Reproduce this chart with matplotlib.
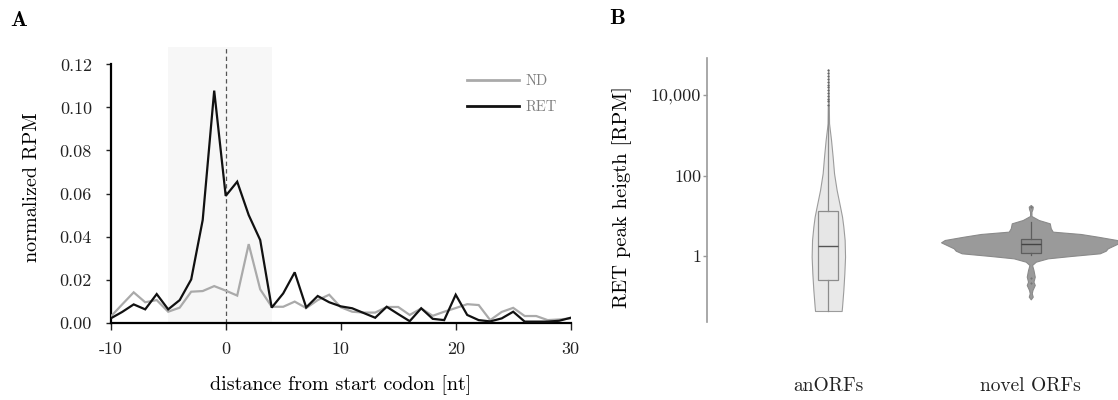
import numpy as np
import matplotlib
matplotlib.use("Agg")
import matplotlib.pyplot as plt
from matplotlib.ticker import FixedLocator, FixedFormatter, NullLocator

plt.rcParams['font.family'] = ['cmr10', 'DejaVu Serif']
plt.rcParams['axes.unicode_minus'] = False
plt.rcParams['axes.formatter.use_mathtext'] = True

# ---------------- Panel A data ----------------
positions_nt = list(range(-10, 31))
nd_values = [0.0028, 0.0085, 0.0141, 0.0095, 0.0105, 0.0051, 0.0070, 0.0144, 0.0147, 0.0170,
             0.0149, 0.0126, 0.0365, 0.0155, 0.0074, 0.0074, 0.0098, 0.0068, 0.0105, 0.0130,
             0.0072, 0.0051, 0.0047, 0.0047, 0.0073, 0.0073, 0.0036, 0.0066, 0.0032, 0.0051,
             0.0068, 0.0086, 0.0082, 0.0012, 0.0050, 0.0069, 0.0031, 0.0031, 0.0012, 0.0015,
             0.0020]
ret_values = [0.0020, 0.0050, 0.0085, 0.0062, 0.0133, 0.0062, 0.0105, 0.0201, 0.0477, 0.1078,
              0.0589, 0.0655, 0.0500, 0.0384, 0.0070, 0.0136, 0.0234, 0.0071, 0.0124, 0.0095,
              0.0076, 0.0067, 0.0045, 0.0023, 0.0074, 0.0040, 0.0007, 0.0067, 0.0018, 0.0012,
              0.0130, 0.0036, 0.0012, 0.0006, 0.0020, 0.0051, 0.0005, 0.0005, 0.0005, 0.0009,
              0.0023]
series_labels = ["ND", "RET"]
xtick_values_a = [-10, 0, 10, 20, 30]
xtick_labels_a = ["-10", "0", "10", "20", "30"]
ytick_values_a = [0.00, 0.02, 0.04, 0.06, 0.08, 0.10, 0.12]
ytick_labels_a = ["0.00", "0.02", "0.04", "0.06", "0.08", "0.10", "0.12"]
shade_range = (-5, 4)

# ---------------- Panel B data ----------------
categories_b = ["anORFs", "novel ORFs"]
# violin outlines: log10(RPM) levels and relative half-widths
anorf_log_levels = [4.638, 3.297, 2.882, 2.468, 2.054, 1.640, 1.226, 0.977, 0.729, 0.398,
                    -0.017, -0.430, -0.845, -1.259, -1.366]
anorf_density = [0.0, 0.7, 2.7, 4.3, 5.7, 8.3, 11.7, 13.7, 15.0, 16.3,
                 16.7, 16.0, 15.0, 13.7, 13.3]
novel_log_levels = [1.267, 1.226, 1.168, 1.101, 0.994, 0.894, 0.812, 0.688, 0.605, 0.547,
                    0.480, 0.398, 0.340, 0.273, 0.191, 0.132, 0.067, 0.000, -0.058, -0.141,
                    -0.224, -0.348, -0.514, -0.638, -0.720, -0.845, -0.927, -1.010, -1.077]
novel_density = [0.0, 2.0, 1.7, 0.7, 0.7, 8.0, 19.0, 20.0, 22.0, 50.0,
                 67.0, 86.0, 89.7, 84.0, 77.0, 75.0, 69.0, 40.0, 17.0, 5.0,
                 1.3, 2.7, 4.0, 2.7, 4.0, 1.7, 1.0, 2.0, 0.0]
# box summaries in log10(RPM)
anorf_box = dict(q1=-0.60, med=0.24, q3=1.125, whislo=-1.366, whishi=3.71)
anorf_fliers = [3.76, 3.84, 3.91, 3.98, 4.05, 4.12, 4.19, 4.26, 4.33, 4.40, 4.47, 4.54, 4.61]
novel_box = dict(q1=0.067, med=0.306, q3=0.415, whislo=0.025, whishi=0.853)
novel_fliers = [1.22, -0.555, -0.679]
ytick_values_b = [1, 100, 10000]
ytick_labels_b = ["1", "100", "10,000"]

W, H = 1118, 400
fig = plt.figure(figsize=(W / 100, H / 100), dpi=100)

# ================= Panel A =================
axA = fig.add_axes([110.7 / W, (H - 322.7) / H, 460 / W, 276 / H])
axA.axvspan(shade_range[0], shade_range[1], color="#f7f7f7", lw=0, zorder=0)
axA.axvline(0, color="#555555", lw=0.9, ls=(0, (3.5, 2.5)), zorder=1)
axA.plot(positions_nt, nd_values, color="#aaaaaa", lw=1.6, label=series_labels[0], zorder=3,
         solid_joinstyle="miter")
axA.plot(positions_nt, ret_values, color="#111111", lw=1.6, label=series_labels[1], zorder=4,
         solid_joinstyle="miter")
axA.set_xlim(-10, 30)
axA.set_ylim(0, 0.1282)
for s in ["top", "right"]:
    axA.spines[s].set_visible(False)
axA.spines["left"].set_bounds(0, 0.12)
axA.spines["bottom"].set_bounds(-10, 30)
for s in ["left", "bottom"]:
    axA.spines[s].set_linewidth(1.6)
    axA.spines[s].set_color("black")
axA.xaxis.set_major_locator(FixedLocator(xtick_values_a))
axA.xaxis.set_major_formatter(FixedFormatter(xtick_labels_a))
axA.yaxis.set_major_locator(FixedLocator(ytick_values_a))
axA.yaxis.set_major_formatter(FixedFormatter(ytick_labels_a))
axA.tick_params(axis="x", length=5, width=1.0, pad=9, labelsize=13, colors="#222222")
axA.tick_params(axis="y", length=3.5, width=1.0, pad=10, labelsize=13, colors="#222222")
axA.set_ylabel("normalized RPM", fontsize=14.5, va="center")
axA.yaxis.set_label_coords((32 - 110.7) / 460, (322.7 - 187) / 276)
axA.set_xlabel("distance from start codon [nt]", fontsize=14.5, va="center")
axA.xaxis.set_label_coords(0.5, (322.7 - 385) / 276)
leg = axA.legend(frameon=False, loc="upper left", bbox_to_anchor=((466.7 - 110.7) / 460, (322.7 - 74) / 276),
                 borderaxespad=0, borderpad=0, handlelength=3.6, handletextpad=0.4,
                 labelspacing=0.85, fontsize=10.5)
for t in leg.get_texts():
    t.set_color("#808080")
for l in leg.get_lines():
    l.set_linewidth(2.0)

fig.text(19 / W, 1 - 20 / H, "A", family="cmb10", fontsize=16, ha="center", va="center")

# ================= Panel B =================
axB = fig.add_axes([706.7 / W, (H - 321.7) / H, (W - 706.7) / W, (321.7 - 58.3) / H])
axB.set_yscale("log")
axB.set_ylim(10 ** -1.632, 10 ** 4.912)
axB.set_xlim(-0.601, 1.431)

vp = [
    dict(coords=10 ** np.array(anorf_log_levels), vals=np.array(anorf_density),
         mean=10 ** anorf_box["med"], median=10 ** anorf_box["med"],
         min=10 ** min(anorf_log_levels), max=10 ** max(anorf_log_levels)),
    dict(coords=10 ** np.array(novel_log_levels), vals=np.array(novel_density),
         mean=10 ** novel_box["med"], median=10 ** novel_box["med"],
         min=10 ** min(novel_log_levels), max=10 ** max(novel_log_levels)),
]
px_per_unit = (1030.7 - 828.3)
parts = axB.violin(vp, positions=[0, 1], widths=[2 * 16.7 / px_per_unit, 2 * 89.7 / px_per_unit],
                   showmeans=False, showextrema=False, showmedians=False)
face = ["#e9e9e9", "#9a9a9a"]
edge = ["#9c9c9c", "#8a8a8a"]
for body, fc, ec in zip(parts["bodies"], face, edge):
    body.set_facecolor(fc)
    body.set_edgecolor(ec)
    body.set_alpha(1)
    body.set_linewidth(0.8)
    body.set_zorder(1)

def to_stats(b, fl):
    return dict(q1=10 ** b["q1"], med=10 ** b["med"], q3=10 ** b["q3"],
                whislo=10 ** b["whislo"], whishi=10 ** b["whishi"],
                fliers=10 ** np.array(fl))

box_cols = [("#e6e6e6", "#8c8c8c", "#555555", "#666666"),
            ("#8e8e8e", "#5e5e5e", "#444444", "#777777")]
for i, (b, fl) in enumerate([(anorf_box, anorf_fliers), (novel_box, novel_fliers)]):
    fc, ec, mc, flc = box_cols[i]
    axB.bxp([to_stats(b, fl)], positions=[i], widths=20 / px_per_unit, patch_artist=True,
            showcaps=False, showfliers=True,
            boxprops=dict(facecolor=fc, edgecolor=ec, linewidth=0.9),
            medianprops=dict(color=mc, linewidth=1.0),
            whiskerprops=dict(color=ec, linewidth=0.9),
            flierprops=dict(marker="o", markersize=1.0, markerfacecolor=flc,
                            markeredgecolor=flc, markeredgewidth=0.5, linestyle="none"),
            zorder=3, manage_ticks=False)

for s in ["top", "right", "bottom"]:
    axB.spines[s].set_visible(False)
axB.spines["left"].set_color("#9a9a9a")
axB.spines["left"].set_linewidth(1.2)
axB.yaxis.set_major_locator(FixedLocator(ytick_values_b))
axB.yaxis.set_major_formatter(FixedFormatter(ytick_labels_b))
axB.yaxis.set_minor_locator(NullLocator())
axB.tick_params(axis="y", length=3, width=1.0, color="#9a9a9a", pad=1, labelsize=13, labelcolor="#222222")
axB.set_xticks([0, 1])
axB.set_xticklabels(categories_b)
axB.tick_params(axis="x", length=0, pad=40, labelsize=14, labelcolor="#222222")
axB.set_ylabel("RET peak heigth [RPM]", fontsize=14.8, va="center")
axB.yaxis.set_label_coords((621.7 - 706.7) / (W - 706.7), (321.7 - 197) / (321.7 - 58.3))

fig.text(617 / W, 1 - 18.3 / H, "B", family="cmb10", fontsize=16, ha="center", va="center")

fig.savefig("out.png", dpi=100)
